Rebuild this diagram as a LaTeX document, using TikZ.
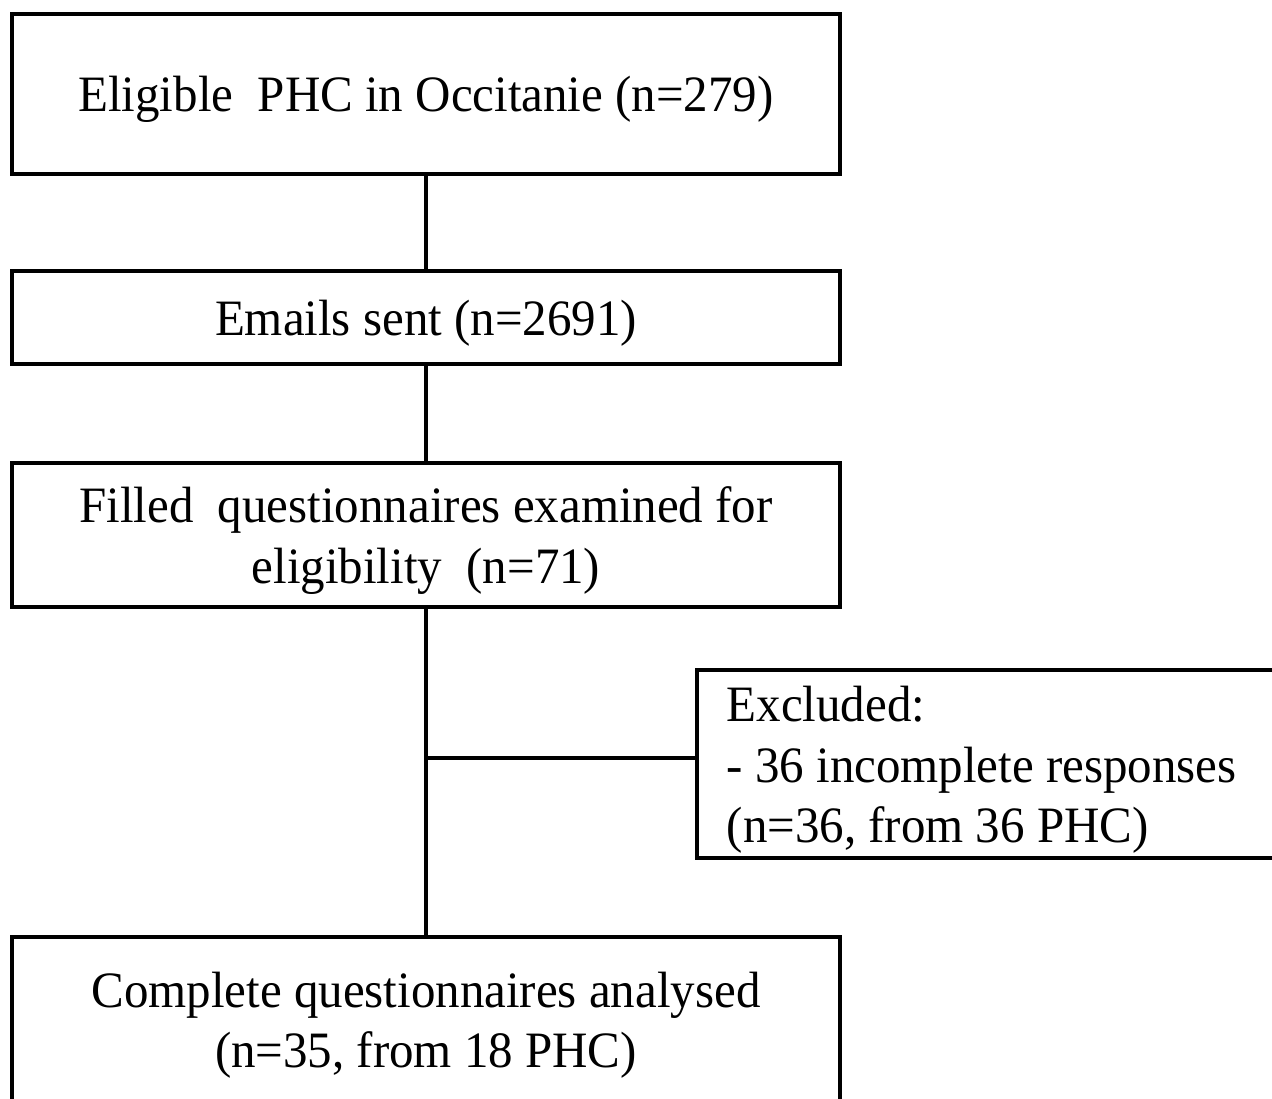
\documentclass[tikz,border=0pt]{standalone}
\usepackage{fontspec}
\setmainfont{Liberation Serif}[FakeStretch=0.96]
\begin{document}
\begin{tikzpicture}[x=1pt,y=-1pt,
  frame/.style={draw, line width=3.5pt, inner sep=0pt, font=\fontsize{51}{60.5}\selectfont},
  box/.style={frame, align=center, text depth=0pt},
  link/.style={line width=3.5pt}]
\useasboundingbox (0,0) rectangle (1272,1099);
\node[box, minimum width=828pt, minimum height=160pt] (b1) at (426,94) {Eligible\ \ PHC in Occitanie (n=279)};
\node[box, minimum width=828pt, minimum height=93pt] (b2) at (426,317.5) {Emails sent (n=2691)};
\node[box, minimum width=828pt, minimum height=144pt] (b3) at (426,535) {Filled\ \ questionnaires examined for\\ eligibility\ \ (n=71)};
\node[frame, anchor=west, align=flush left, text width=560pt, inner xsep=30pt, minimum height=188pt] (b4) at (695,764) {\rule{0pt}{47pt}Excluded:\\- 36 incomplete responses\\(n=36, from 36 PHC)};
\node[box, minimum width=828pt, minimum height=166pt] (b5) at (426,1020) {Complete questionnaires analysed\\(n=35, from 18 PHC)};
\coordinate (j) at (426,758);
\draw[link] (b1.south) -- (b2.north);
\draw[link] (b2.south) -- (b3.north);
\draw[link] (b3.south) -- (b5.north);
\draw[link] (j) -- (j -| b4.west);
\end{tikzpicture}
\end{document}
